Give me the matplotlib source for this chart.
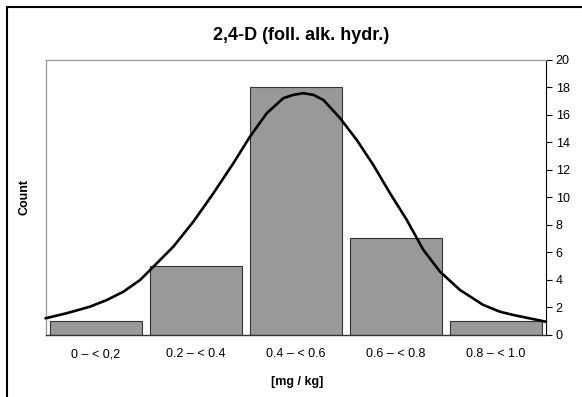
import matplotlib
matplotlib.use("Agg")
import matplotlib.pyplot as plt
from matplotlib.patches import Rectangle

plt.rcParams["font.family"] = ["Liberation Sans", "DejaVu Sans"]

# ----- data -----
categories = ["0 \u2013 < 0,2", "0.2 \u2013 < 0.4", "0.4 \u2013 < 0.6",
              "0.6 \u2013 < 0.8", "0.8 \u2013 < 1.0"]
counts = [1, 5, 18, 7, 1]

# fitted curve (category index, count)
curve_x = [-0.5, -0.288, -0.055, 0.112, 0.278, 0.445, 0.545, 0.777, 0.977,
           1.177, 1.377, 1.543, 1.71, 1.876, 1.976, 2.076, 2.176, 2.276,
           2.443, 2.609, 2.775, 2.942, 3.109, 3.275, 3.441, 3.641, 3.874,
           4.04, 4.174, 4.5]
curve_y = [1.18, 1.55, 2.03, 2.51, 3.12, 3.97, 4.70, 6.4, 8.22,
           10.29, 12.48, 14.42, 16.12, 17.22, 17.46, 17.58, 17.46, 17.09,
           15.76, 14.18, 12.35, 10.29, 8.35, 6.16, 4.58, 3.24, 2.15,
           1.66, 1.42, 0.93]

title = "2,4-D (foll. alk. hydr.)"
xlabel = "[mg / kg]"
ylabel = "Count"
yticks = list(range(0, 21, 2))

fig = plt.figure(figsize=(5.82, 3.97), dpi=100)
ax = fig.add_axes([45.5 / 582, 1 - 334.5 / 397, 500.5 / 582, 274.5 / 397])

x = list(range(len(categories)))
ax.bar(x, counts, width=0.92, color="#999999", edgecolor="#333333",
       linewidth=0.8, zorder=2)
ax.plot(curve_x, curve_y, color="black", lw=1.9, solid_joinstyle="round",
        solid_capstyle="round", zorder=3, clip_on=False)

ax.set_xlim(-0.5, 4.5)
ax.set_ylim(0, 20)
ax.set_xticks(x)
ax.set_xticklabels(categories, fontsize=9)
ax.tick_params(axis="x", length=0, pad=10)
ax.yaxis.tick_right()
ax.set_yticks(yticks)
ax.tick_params(axis="y", direction="out", length=4, width=0.8, pad=3,
               labelsize=9)

for side in ("top", "left"):
    ax.spines[side].set_color("#a0a0a0")
    ax.spines[side].set_linewidth(1.0)
ax.spines["right"].set_color("black")
ax.spines["right"].set_linewidth(0.8)
ax.spines["bottom"].set_color("#333333")
ax.spines["bottom"].set_linewidth(1.0)

fig.text(301 / 582, 1 - 35 / 397, title, ha="center", va="center",
         fontsize=13, fontweight="bold")
fig.text(297 / 582, 1 - 382 / 397, xlabel, ha="center", va="center",
         fontsize=9, fontweight="bold")
fig.text(24 / 582, 1 - 197 / 397, ylabel, ha="center", va="center",
         fontsize=9, fontweight="bold", rotation=90)

# outer chart frame (cropped on the right and bottom)
fig.patches.append(Rectangle((7 / 582, -0.1), 1.2, 1 - 7 / 397 + 0.1,
                             transform=fig.transFigure, fill=False,
                             edgecolor="black", linewidth=1.5))

fig.savefig("out.png", dpi=100)
